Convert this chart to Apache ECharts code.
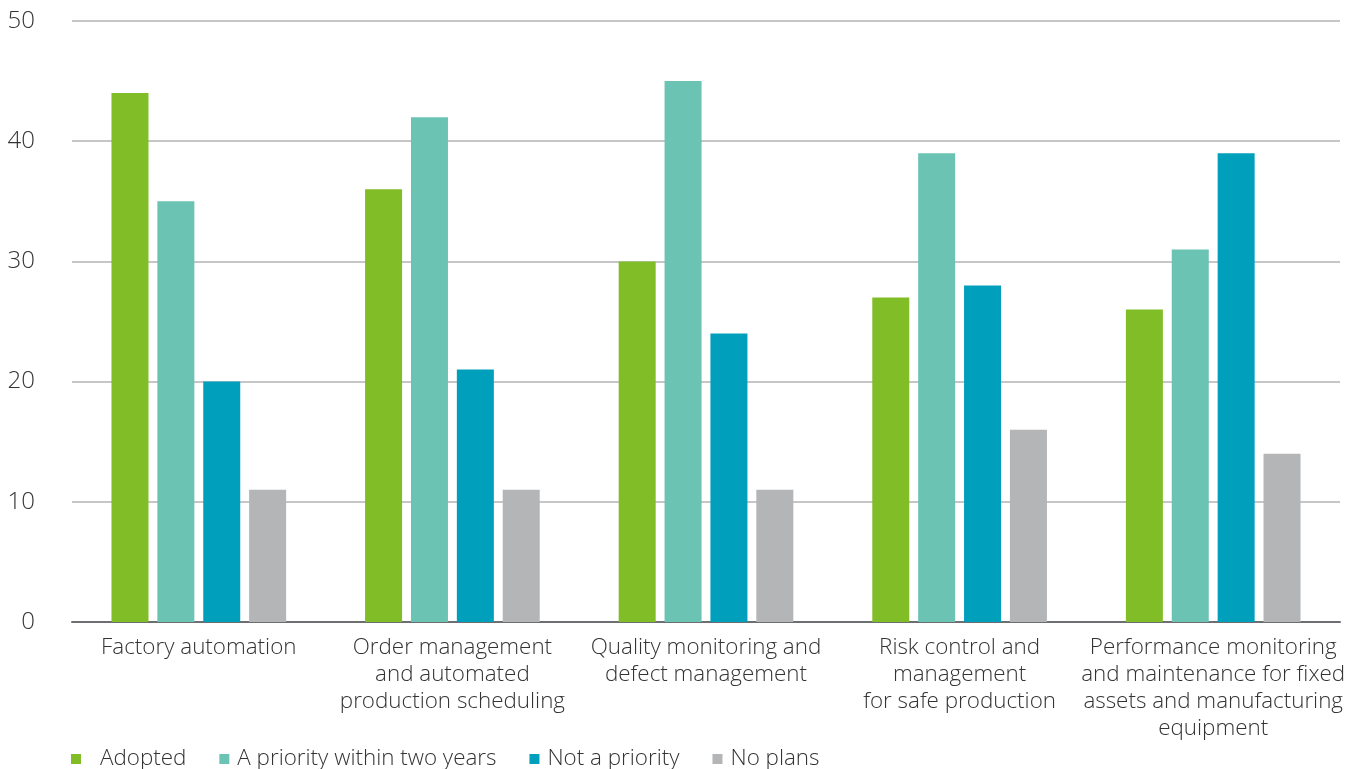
<!DOCTYPE html>
<html>
<head>
<meta charset="utf-8">
<script src="https://cdn.jsdelivr.net/npm/echarts@6/dist/echarts.min.js"></script>
<style>html,body{margin:0;padding:0;background:#fff;}#chart{width:1363px;height:769px;}</style>
</head>
<body>
<div id="chart"></div>
<script>
const categories = [
  'Factory automation',
  'Order management\nand automated\nproduction scheduling',
  'Quality monitoring and\ndefect management',
  'Risk control and\nmanagement\nfor safe production',
  'Performance monitoring\nand maintenance for fixed\nassets and manufacturing\nequipment'
];
const seriesNames = ['Adopted', 'A priority within two years', 'Not a priority', 'No plans'];
const adopted = [44, 36, 30, 27, 26];
const priorityTwoYears = [35, 42, 45, 39, 31];
const notPriority = [20, 21, 24, 28, 39];
const noPlans = [11, 11, 11, 16, 14];
const colors = ['#80bd27', '#6bc3b3', '#009fbb', '#b4b5b7'];

const values = [adopted, priorityTwoYears, notPriority, noPlans];
const font = '"Open Sans", "Noto Sans", sans-serif';

const chart = echarts.init(document.getElementById('chart'));
chart.setOption({
  animation: false,
  color: colors,
  grid: { left: 72, right: 23, top: 21, bottom: 147, containLabel: false },
  legend: {
    left: 66, top: 743,
    icon: 'rect', itemWidth: 10, itemHeight: 10, itemGap: 33,
    textStyle: { fontFamily: font, fontSize: 22.4, fontWeight: 300, color: '#333333', padding: [0, 0, 0, 3] },
    data: seriesNames.map((n, i) => i === 0 ? { name: n, textStyle: { padding: [0, 0, 0, 14] } } : n)
  },
  xAxis: {
    type: 'category',
    data: categories,
    axisLine: { lineStyle: { color: '#6d6e71', width: 2 } },
    axisTick: { show: false },
    axisLabel: { interval: 0, fontFamily: font, fontSize: 22.4, fontWeight: 300, color: '#333333', lineHeight: 27, margin: 12 }
  },
  yAxis: {
    type: 'value', min: 0, max: 50, interval: 10,
    axisLine: { show: false }, axisTick: { show: false },
    splitLine: { lineStyle: { color: '#b3b3b3', width: 1.5 } },
    axisLabel: { fontFamily: font, fontSize: 24, fontWeight: 300, color: '#333333', margin: 37 }
  },
  series: values.map((v, i) => ({
    name: seriesNames[i], type: 'bar', data: v,
    barWidth: 37, barGap: '24%',
    itemStyle: { color: colors[i] }
  }))
});
</script>
</body>
</html>
